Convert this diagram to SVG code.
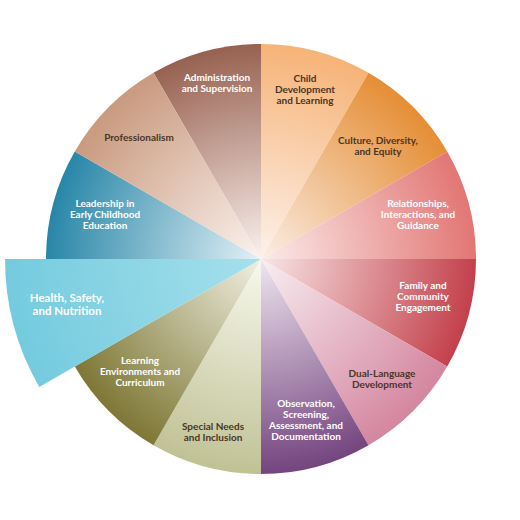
<svg xmlns="http://www.w3.org/2000/svg" width="520" height="520" viewBox="0 0 520 520">
<style>
text{font-family:Lato,"Open Sans","Liberation Sans",sans-serif;font-weight:700;font-size:10px;text-anchor:middle}
.d{fill:#4a3526}
.w{fill:#ffffff}
.h{font-size:11.5px}
</style>
<defs>
<radialGradient id="gAdm" gradientUnits="userSpaceOnUse" cx="261" cy="259" r="215"><stop offset="0" stop-color="#fbf1ee"/><stop offset="1" stop-color="#976150"/></radialGradient>
<radialGradient id="gChi" gradientUnits="userSpaceOnUse" cx="261" cy="259" r="215"><stop offset="0" stop-color="#fdf1ea"/><stop offset="1" stop-color="#f6b377"/></radialGradient>
<radialGradient id="gCul" gradientUnits="userSpaceOnUse" cx="261" cy="259" r="215"><stop offset="0" stop-color="#fbeee6"/><stop offset="1" stop-color="#e58e35"/></radialGradient>
<radialGradient id="gRel" gradientUnits="userSpaceOnUse" cx="261" cy="259" r="215"><stop offset="0" stop-color="#fbeceb"/><stop offset="1" stop-color="#e27673"/></radialGradient>
<radialGradient id="gFam" gradientUnits="userSpaceOnUse" cx="261" cy="259" r="215"><stop offset="0" stop-color="#f8e6e6"/><stop offset="1" stop-color="#c3404b"/></radialGradient>
<radialGradient id="gDua" gradientUnits="userSpaceOnUse" cx="261" cy="259" r="215"><stop offset="0" stop-color="#f8eef2"/><stop offset="1" stop-color="#d4869f"/></radialGradient>
<radialGradient id="gObs" gradientUnits="userSpaceOnUse" cx="261" cy="259" r="215"><stop offset="0" stop-color="#efe6f0"/><stop offset="1" stop-color="#74447f"/></radialGradient>
<radialGradient id="gSpe" gradientUnits="userSpaceOnUse" cx="261" cy="259" r="215"><stop offset="0" stop-color="#f8f8ee"/><stop offset="1" stop-color="#c0c295"/></radialGradient>
<radialGradient id="gLea" gradientUnits="userSpaceOnUse" cx="261" cy="259" r="215"><stop offset="0" stop-color="#f1f0e2"/><stop offset="1" stop-color="#7e7735"/></radialGradient>
<radialGradient id="gHea" gradientUnits="userSpaceOnUse" cx="261" cy="259" r="256"><stop offset="0" stop-color="#a6e0ec"/><stop offset="1" stop-color="#74cbde"/></radialGradient>
<radialGradient id="gLdr" gradientUnits="userSpaceOnUse" cx="261" cy="259" r="215"><stop offset="0" stop-color="#e3f1f6"/><stop offset="1" stop-color="#2886a8"/></radialGradient>
<radialGradient id="gPro" gradientUnits="userSpaceOnUse" cx="261" cy="259" r="215"><stop offset="0" stop-color="#fbf2ee"/><stop offset="1" stop-color="#c99a7f"/></radialGradient>
</defs>
<g id="administration">
<path d="M261 259 L153.5 72.8 A215 215 0 0 1 261 44 Z" fill="url(#gAdm)"/>
<text class="w" x="217" y="81">Administration</text>
<text class="w" x="217" y="92">and Supervision</text>
</g>
<g id="child-development">
<path d="M261 259 L261 44 A215 215 0 0 1 368.5 72.8 Z" fill="url(#gChi)"/>
<text class="d" x="305" y="82">Child</text>
<text class="d" x="305" y="93">Development</text>
<text class="d" x="305" y="104">and Learning</text>
</g>
<g id="culture">
<path d="M261 259 L368.5 72.8 A215 215 0 0 1 447.2 151.5 Z" fill="url(#gCul)"/>
<text class="d" x="378" y="144">Culture, Diversity,</text>
<text class="d" x="378" y="155">and Equity</text>
</g>
<g id="relationships">
<path d="M261 259 L447.2 151.5 A215 215 0 0 1 476 259 Z" fill="url(#gRel)"/>
<text class="w" x="418" y="207">Relationships,</text>
<text class="w" x="418" y="218">Interactions, and</text>
<text class="w" x="418" y="229">Guidance</text>
</g>
<g id="family">
<path d="M261 259 L476 259 A215 215 0 0 1 447.2 366.5 Z" fill="url(#gFam)"/>
<text class="w" x="423" y="289">Family and</text>
<text class="w" x="423" y="300">Community</text>
<text class="w" x="423" y="311">Engagement</text>
</g>
<g id="dual-language">
<path d="M261 259 L447.2 366.5 A215 215 0 0 1 368.5 445.2 Z" fill="url(#gDua)"/>
<text class="d" x="382" y="377">Dual-Language</text>
<text class="d" x="382" y="388">Development</text>
</g>
<g id="observation">
<path d="M261 259 L368.5 445.2 A215 215 0 0 1 261 474 Z" fill="url(#gObs)"/>
<text class="w" x="306" y="407">Observation,</text>
<text class="w" x="306" y="418">Screening,</text>
<text class="w" x="306" y="429">Assessment, and</text>
<text class="w" x="306" y="440">Documentation</text>
</g>
<g id="special-needs">
<path d="M261 259 L261 474 A215 215 0 0 1 153.5 445.2 Z" fill="url(#gSpe)"/>
<text class="d" x="213" y="430">Special Needs</text>
<text class="d" x="213" y="441">and Inclusion</text>
</g>
<g id="learning-environments">
<path d="M261 259 L153.5 445.2 A215 215 0 0 1 74.8 366.5 Z" fill="url(#gLea)"/>
<text class="w" x="140" y="364">Learning</text>
<text class="w" x="140" y="375">Environments and</text>
<text class="w" x="140" y="386">Curriculum</text>
</g>
<g id="health">
<path d="M261 259 L39.3 387 A256 256 0 0 1 5 259 Z" fill="url(#gHea)"/>
<text class="w h" x="67" y="302">Health, Safety,</text>
<text class="w h" x="67" y="315">and Nutrition</text>
</g>
<g id="leadership">
<path d="M261 259 L46 259 A215 215 0 0 1 74.8 151.5 Z" fill="url(#gLdr)"/>
<text class="w" x="105" y="207">Leadership in</text>
<text class="w" x="105" y="218">Early Childhood</text>
<text class="w" x="105" y="229">Education</text>
</g>
<g id="professionalism">
<path d="M261 259 L74.8 151.5 A215 215 0 0 1 153.5 72.8 Z" fill="url(#gPro)"/>
<text class="d" x="139" y="141">Professionalism</text>
</g>
<g id="connectors"/>
</svg>
